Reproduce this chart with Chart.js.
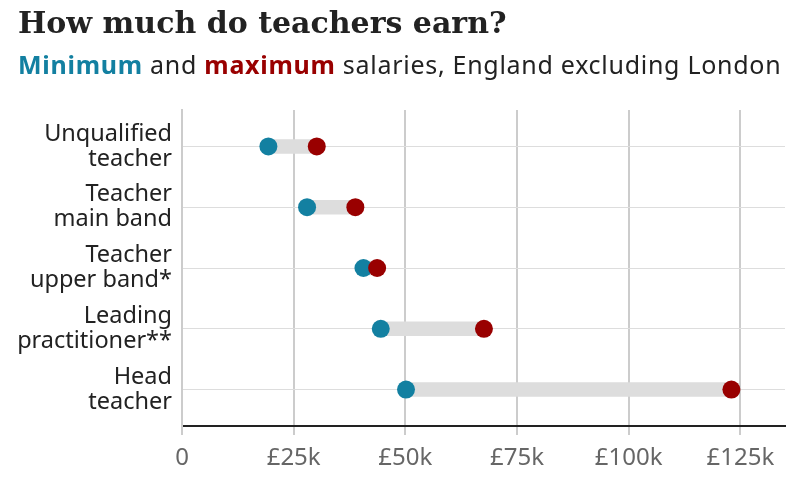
<!DOCTYPE html>
<html lang="en">
  <head>
    <meta charset="UTF-8" />
    <title>How much do teachers earn?</title>
    <script src="https://cdn.jsdelivr.net/npm/chart.js@4"></script>
    <style>
      body { margin: 0; background: #fff; }
      #wrap { position: relative; width: 803px; height: 481px; }
      #title { position: absolute; left: 18px; top: 5px; font: bold 30px "DejaVu Serif", serif; color: #222; }
      #sub { position: absolute; left: 18px; top: 47px; font: 25px "Noto Sans", sans-serif; letter-spacing: 0.72px; color: #222; }
      #sub b.min { color: #1380a1; }
      #sub b.max { color: #990000; }
      canvas { position: absolute; left: 0; top: 0; }
    </style>
  </head>
  <body>
    <div id="wrap">
      <canvas id="myChart" width="803" height="481"></canvas>
      <div id="title">How much do teachers earn?</div>
      <div id="sub"><b class="min">Minimum</b> and <b class="max">maximum</b> salaries, England excluding London</div>
    </div>
    <script>
      const roles = [
        ["Unqualified", "teacher"],
        ["Teacher", "main band"],
        ["Teacher", "upper band*"],
        ["Leading", "practitioner**"],
        ["Head", "teacher"],
      ];
      const minPay = [19340, 28000, 40625, 44500, 50150];
      const maxPay = [30170, 38810, 43685, 67600, 123000];
      const xTicks = [0, 25000, 50000, 75000, 100000, 125000];

      const ctx = document.getElementById("myChart");
      new Chart(ctx, {
        data: {
          datasets: [
            {
              type: "bar",
              data: roles.map((r, i) => ({ y: i, x: [minPay[i], maxPay[i]] })),
              backgroundColor: "#dddddd",
              barThickness: 14,
              order: 2,
            },
            {
              type: "scatter",
              data: minPay.map((v, i) => ({ x: v, y: i })),
              backgroundColor: "#1380a1",
              borderWidth: 0,
              pointRadius: 9,
              order: 1,
            },
            {
              type: "scatter",
              data: maxPay.map((v, i) => ({ x: v, y: i })),
              backgroundColor: "#990000",
              borderWidth: 0,
              pointRadius: 9,
              order: 0,
            },
          ],
        },
        options: {
          indexAxis: "y",
          responsive: false,
          animation: false,
          layout: { padding: { top: 110, right: 18, left: 0, bottom: 0 } },
          plugins: { legend: { display: false }, tooltip: { enabled: false } },
          scales: {
            x: {
              type: "linear",
              min: 0,
              max: 135000,
              afterFit: (s) => { s.height = 55; },
              afterBuildTicks: (s) => { s.ticks = xTicks.map((v) => ({ value: v })); },
              border: { color: "#222", width: 2 },
              grid: { color: "#cccccc", lineWidth: 2, tickLength: 9 },
              ticks: {
                color: "#666",
                font: { family: "Noto Sans", size: 24 },
                padding: 9,
                callback: (v) => (v === 0 ? "0" : "£" + v / 1000 + "k"),
              },
            },
            y: {
              type: "linear",
              reverse: true,
              offset: false,
              min: -0.6,
              max: 4.6,
              afterFit: (s) => { s.width = 182; },
              afterBuildTicks: (s) => { s.ticks = roles.map((r, i) => ({ value: i })); },
              border: { color: "#cccccc", width: 2 },
              grid: { color: "#dddddd", lineWidth: 1, drawTicks: false, offset: false },
              ticks: {
                color: "#222",
                font: { family: "Noto Sans", size: 23.5, lineHeight: 1.07 },
                padding: 10,
                callback: (v) => roles[v],
              },
            },
          },
        },
      });
    </script>
  </body>
</html>
